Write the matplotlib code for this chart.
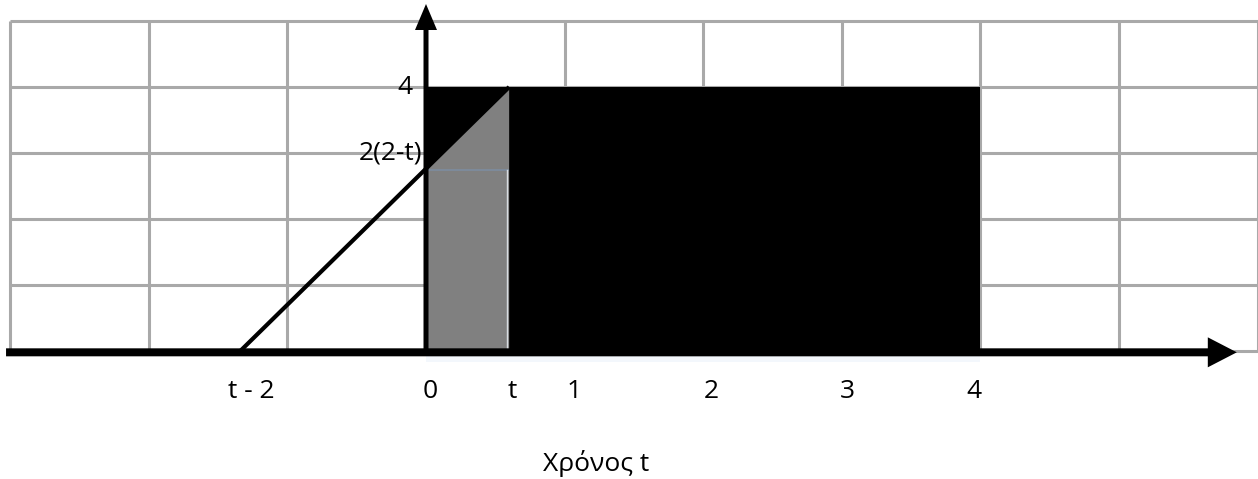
import matplotlib
matplotlib.use("Agg")
import matplotlib.pyplot as plt
from matplotlib.patches import Polygon, Rectangle

plt.rcParams['font.family'] = ['Open Sans', 'DejaVu Sans']

# grid (one column per time unit, one row per amplitude unit)
grid_x = [-3, -2, -1, 0, 1, 2, 3, 4, 5, 6]
grid_y = [0, 1, 2, 3, 4, 5]

# pulse x(t) = 4 on [0, 4]
pulse_start, pulse_end, pulse_height = 0.0, 4.0, 4.0

# shifted ramp from t-2 to t, reaching 4 at t
t_now = 0.6
ramp_start = -1.34
ramp_top = 4.0

# axis tick labels along time
tick_pos = [-1.26, 0.03, 0.62, 1.07, 2.06, 3.04, 3.95]
tick_txt = ["t - 2", "0", "t", "1", "2", "3", "4"]

# labels on the amplitude axis (right edge, height)
ylab_x = [-0.10, -0.03]
ylab_pos = [4.0, 3.0]
ylab_txt = ["4", "2(2-t)"]

xlabel = "Χρόνος t"

W, H = 1258, 479
fig = plt.figure(figsize=(W / 100, H / 100), dpi=100)
ax = fig.add_axes([0, 0, 1, 1])
px_x = 138.6   # pixels per time unit
px_y = 66.0    # pixels per amplitude unit
x0_px, y0_px = 426, 351
ax.set_xlim(-x0_px / px_x, (W - x0_px) / px_x)
ax.set_ylim(-(H - y0_px) / px_y, y0_px / px_y)
ax.axis('off')

grid_col = '#a9a9a9'
for gx in grid_x:
    ax.plot([gx, gx], [grid_y[0], grid_y[-1]], color=grid_col, lw=2.2,
            zorder=1, solid_capstyle='butt')
for gy in grid_y:
    ax.plot([grid_x[0], grid_x[-1]], [gy, gy], color=grid_col, lw=2.2,
            zorder=1, solid_capstyle='butt')

# pulse
ax.add_patch(Rectangle((pulse_start, 0), pulse_end - pulse_start, pulse_height,
                       facecolor='black', edgecolor='none', zorder=2))

# overlap region of ramp and pulse
slope = ramp_top / (t_now - ramp_start)
y_at0 = slope * (pulse_start - ramp_start)
ax.add_patch(Polygon([(pulse_start, 0), (t_now, 0), (t_now, ramp_top),
                      (pulse_start, y_at0)],
                     closed=True, facecolor='#808080', edgecolor='none', zorder=3))
ax.plot([pulse_start, t_now - 0.01], [y_at0 - 0.02, y_at0 - 0.02],
        color='#7d8b9b', lw=1.4, zorder=3.5)
ax.plot([t_now - 0.012, t_now - 0.012], [0, y_at0 - 0.02],
        color='#d8dde2', lw=1.0, zorder=3.5)

# soft shade below the pulse on the axis
ax.fill_between([pulse_start, pulse_end], [-0.17, -0.17], [0, 0],
                color='#f3f7fc', lw=0, zorder=1.5)

# ramp
ax.plot([ramp_start, t_now], [0, ramp_top], color='black', lw=3.0,
        zorder=4, solid_capstyle='butt')

# time axis with arrow
ax.arrow(-3.03, -0.02, 5.85 - (-3.03), 0, width=8 / px_y, head_width=30 / px_y,
         head_length=29 / px_x, length_includes_head=True,
         facecolor='black', edgecolor='none', zorder=5)
# amplitude axis with arrow
ax.arrow(0.0, 0.0, 0, (y0_px - 4) / px_y, width=5 / px_x, head_width=22 / px_x,
         head_length=26 / px_y, length_includes_head=True,
         facecolor='black', edgecolor='none', zorder=5)

fs = 19
for xp, txt in zip(tick_pos, tick_txt):
    ax.text(xp, -0.62, txt, ha='center', va='center', fontsize=fs, zorder=6)
for xp, yp, txt in zip(ylab_x, ylab_pos, ylab_txt):
    ax.text(xp, yp, txt, ha='right', va='center', fontsize=fs, zorder=6)

ax.text(1.23, -1.70, xlabel, ha='center', va='center', fontsize=fs, zorder=6)

fig.savefig("out.png", dpi=100)
